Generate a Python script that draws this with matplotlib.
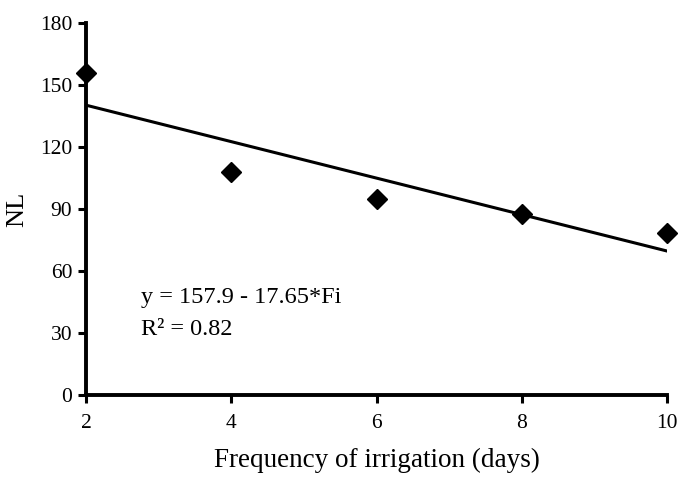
import matplotlib.pyplot as plt
import numpy as np

# observed data
days = [2, 4, 6, 8, 10]
nl = [156, 108, 95, 87.5, 78.5]

# fitted regression: y = 157.9 - 17.65*Fi, Fi = 1..5 (treatment index)
fi = [1, 2, 3, 4, 5]
intercept = 157.9
slope = -17.65

x_ticks = [2, 4, 6, 8, 10]
y_ticks = [0, 30, 60, 90, 120, 150, 180]

plt.rcParams['font.family'] = ['Liberation Serif', 'DejaVu Serif']

fig = plt.figure(figsize=(6.83, 4.8), dpi=100)
ax = fig.add_axes([0.126, 0.177, 0.851, 0.775])

fit = intercept + slope * np.array(fi)
ax.plot([days[0], days[-1]], [fit[0], fit[-1]], color='black', linewidth=2.2)
ax.plot(days, nl, linestyle='none', marker='D', markersize=10,
        color='black', clip_on=False, zorder=5)

ax.set_xlim(2, 10)
ax.set_ylim(0, 180)
ax.set_xticks(x_ticks)
ax.set_yticks(y_ticks)

for side in ['top', 'right']:
    ax.spines[side].set_visible(False)
for side in ['left', 'bottom']:
    ax.spines[side].set_linewidth(2.8)

ax.tick_params(axis='both', direction='out', length=6, width=2.2,
               labelsize=15.5)
ax.tick_params(axis='y', pad=4)
ax.tick_params(axis='x', pad=8)

ax.set_xlabel('Frequency of irrigation (days)', fontsize=19.5, labelpad=10)
ax.set_ylabel('NL', fontsize=19, labelpad=8)

ax.text(2.75, 47, 'y = 157.9 - 17.65*Fi', fontsize=17.5, va='center')
ax.text(2.75, 31.5, 'R² = 0.82', fontsize=17.5, va='center')

plt.savefig('out.png', dpi=100)
